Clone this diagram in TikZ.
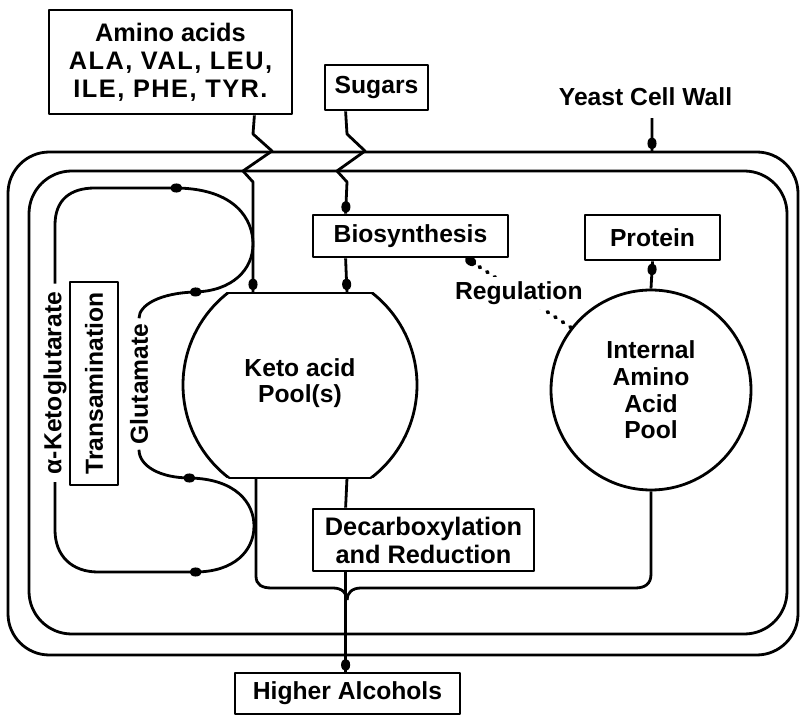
\documentclass[tikz,border=0pt]{standalone}
\usepackage{fontspec}
\setmainfont{Liberation Sans}
\usetikzlibrary{decorations.markings}
\begin{document}
\begin{tikzpicture}[x=0.75pt,y=-0.75pt, line width=2.1pt, line join=round,
  txt/.style={font=\fontsize{18.5}{20}\selectfont\bfseries, inner sep=0pt, align=center},
  box/.style={txt, draw, rectangle},
  blob/.style={postaction={decorate}, decoration={markings, mark=at position #1 with {\fill (0,0) ellipse [x radius=4.6pt, y radius=3.4pt];}}},
  regdots/.style={dash pattern=on 1pt off 5.8pt, line cap=round, line width=2.8pt},
]
\useasboundingbox (0,0) rectangle (800,716);

% cell walls
\draw[rounded corners=31pt] (8,152) rectangle (798,655);
\draw[rounded corners=32pt] (29,171) rectangle (787,634);

% nodes
\node[box, minimum width=182.25pt, minimum height=78pt, font=\fontsize{19}{21}\selectfont\bfseries] (amino) at (170.5,62)
  {Amino acids\\{\addfontfeatures{LetterSpace=6}ALA, VAL, LEU,}\\{\addfontfeatures{LetterSpace=6}ILE, PHE, TYR.}};
\node[box, minimum width=77.25pt, minimum height=33.75pt] (sugars) at (376.5,87.5) {Sugars};
\node[txt] (ycw) at (645.5,97) {Yeast Cell Wall};
\coordinate (wallpt) at (652,152);
\node[box, minimum width=146.25pt, minimum height=31.5pt] (bios) at (410.5,236) {Biosynthesis};
\node[box, minimum width=101.25pt, minimum height=33.75pt] (protein) at (652.5,237.5) {Protein};
\node[txt, circle, minimum size=175.5pt] (keto) at (300,383) {Keto acid\\Pool(s)};
\node[txt, circle, draw, minimum size=150pt] (internal) at (651,390) {Internal\\Amino\\Acid\\Pool};
\node[box, minimum width=165.75pt, minimum height=46.5pt, font=\fontsize{19}{21}\selectfont\bfseries] (decarb) at (423.5,540) {Decarboxylation\\and Reduction};
\node[box, minimum width=168.75pt, minimum height=30.75pt] (higher) at (347.5,693.5) {Higher Alcohols};
\node[box, rotate=90, minimum width=152.25pt, minimum height=36pt] (trans) at (94,383.5) {Transamination};
\node[txt, rotate=90, inner sep=5pt] (akg) at (55,383) {α-Ketoglutarate};
\node[txt, rotate=90, inner sep=3pt] (glu) at (139,384) {Glutamate};

% keto pool outline (circle cut by two chords)
\coordinate (kc) at (300,385);
\coordinate (kt1) at (253,293);
\coordinate (kt2) at (347,293);
\coordinate (kb1) at (256,478);
\coordinate (kb2) at (347,478);
\coordinate (jn) at (347,600);
\begin{scope}
\clip (150,293) rectangle (450,478);
\draw (kc) circle [radius=87.75pt];
\end{scope}
\draw[line cap=round] (227.7,293) -- (372.3,293);
\draw[line cap=round] (229,478) -- (371,478);

% connectors
\draw[blob=-6.5pt] ([xshift=-29.25pt]amino.south east) -- (253,134) -- (272,151) -- (243,171) -- (253,182) -- (kt1);
\draw[blob=-5pt] ([xshift=16.5pt]sugars.south west) -- (347,134) -- (365,151) -- (337,171) -- (347,182) -- ([xshift=25.5pt]bios.north west);
\draw[blob=-6.5pt] ([xshift=25.5pt]bios.south west) -- (kt2);
\draw (kb2) -- ([xshift=25.5pt]decarb.north west);
\draw[blob=-5pt] ([xshift=25.5pt]decarb.south west) -- ([xshift=84pt]higher.north west);
\draw (kb1) -- (256,576) .. controls (256,585) and (262,588) .. (272,588) -- (333,588) .. controls (342,588) and (347,593) .. (jn);
\draw (internal.south) -- (651,574) .. controls (651,584) and (645,588) .. (635,588) -- (361,588) .. controls (352,588) and (347,593) .. (jn);
\draw[blob=-6pt] (internal.north) -- (protein.south);
\draw[blob=-6.5pt] ([xshift=4.9pt,yshift=-8pt]ycw.south) -- (wallpt);
\draw[regdots, blob=-3.5pt] (internal.142) -- node[txt, fill=white, inner sep=3pt] (reg) {Regulation} ([xshift=116.25pt]bios.south west);

% transamination loops
\draw[blob=-0.5pt] (akg.east) -- (55,225) .. controls (55,200) and (70,188) .. (95,188) -- (177,188);
\draw[blob=-0.5pt] (177,188) .. controls (236,189) and (253,220) .. (253,244) .. controls (253,270) and (232,291) .. (195,292);
\draw (195,292) .. controls (160,293) and (139,305) .. (glu.east);
\draw[blob=-0.5pt] (glu.west) .. controls (139,466) and (160,478) .. (190,478);
\draw[blob=-0.5pt] (190,478) .. controls (236,479) and (254,503) .. (254,526) .. controls (254,551) and (234,572) .. (195,572);
\draw (195,572) -- (98,572) .. controls (72,572) and (55,556) .. (55,530) -- (akg.west);
\end{tikzpicture}
\end{document}
